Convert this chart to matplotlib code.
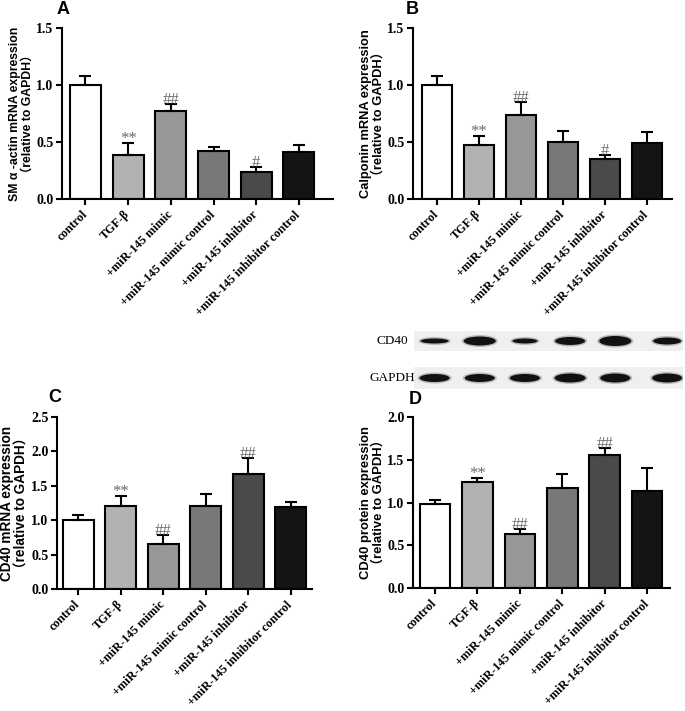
import numpy as np
import matplotlib
matplotlib.use('Agg')
import matplotlib.pyplot as plt
from matplotlib.patches import Ellipse, Rectangle

# Data
groups = ['control', 'TGF-β', '+miR-145 mimic', '+miR-145 mimic control',
          '+miR-145 inhibitor', '+miR-145 inhibitor control']
bar_colors = ['#ffffff', '#b2b2b2', '#979797', '#787878', '#4a4a4a', '#141414']

sma_mean = [1.00, 0.39, 0.775, 0.425, 0.235, 0.41]
sma_err = [0.08, 0.10, 0.06, 0.03, 0.045, 0.06]
sma_marks = ['', '**', '##', '', '#', '']

calp_mean = [1.00, 0.47, 0.74, 0.50, 0.355, 0.49]
calp_err = [0.08, 0.085, 0.115, 0.10, 0.03, 0.10]
calp_marks = ['', '**', '##', '', '#', '']

cd40_mrna_mean = [1.00, 1.21, 0.655, 1.20, 1.665, 1.19]
cd40_mrna_err = [0.08, 0.145, 0.13, 0.185, 0.24, 0.08]
cd40_mrna_marks = ['', '**', '##', '', '##', '']

cd40_prot_mean = [0.98, 1.235, 0.63, 1.17, 1.56, 1.14]
cd40_prot_err = [0.05, 0.05, 0.06, 0.165, 0.075, 0.265]
cd40_prot_marks = ['', '**', '##', '', '##', '']

# western blot band sizes (width, height in px) per lane
cd40_band_w = [28, 32, 25, 30, 32, 28]
cd40_band_h = [5, 9, 5, 8, 10, 7]
gapdh_band_w = [30, 30, 30, 31, 30, 30]
gapdh_band_h = [8, 8, 8, 9, 9, 9]

plt.rcParams['font.family'] = ['Liberation Sans', 'Noto Sans CJK SC']

fig = plt.figure(figsize=(6.85, 7.11), dpi=100)
W, H = 685.0, 711.0

def px_axes(left, top, right, bottom):
    return fig.add_axes([left / W, 1 - bottom / H, (right - left) / W, (bottom - top) / H])

def bar_panel(ax, mean, err, marks, ymax, ylabel, xlim, lsize):
    x = np.arange(len(groups))
    ax.bar(x, mean, width=0.72, color=bar_colors, edgecolor='black', linewidth=1.5, zorder=2)
    ax.errorbar(x, mean, yerr=[np.zeros(len(err)), err], fmt='none', ecolor='black',
                elinewidth=1.5, capsize=4.5, capthick=1.5, zorder=3)
    for xi, m, e, s in zip(x, mean, err, marks):
        if s:
            ax.annotate(s, (xi, m + e), xytext=(0, -3), textcoords='offset points',
                        ha='center', va='bottom', fontsize=12,
                        family='Liberation Serif', color='#6a6a6a', zorder=4)
    ax.set_ylim(0, ymax)
    ax.set_xlim(*xlim)
    ax.set_yticks(np.arange(0, ymax + 0.01, 0.5))
    ax.set_yticklabels(['%.1f' % v for v in np.arange(0, ymax + 0.01, 0.5)],
                       family='Liberation Serif', fontweight='bold', fontsize=10)
    ax.set_xticks(x)
    ax.set_xticklabels(groups, rotation=45, ha='right', va='center', rotation_mode='anchor',
                       family='Liberation Serif', fontweight='bold', fontsize=8.8)
    ax.tick_params(direction='out', length=4, width=1.5, pad=2)
    ax.tick_params(axis='x', pad=6)
    for sp in ['top', 'right']:
        ax.spines[sp].set_visible(False)
    for sp in ['left', 'bottom']:
        ax.spines[sp].set_linewidth(1.5)
    ax.set_ylabel(ylabel, fontsize=lsize, fontweight='bold', labelpad=2, linespacing=1.05)

axA = px_axes(62, 28, 333, 199)
bar_panel(axA, sma_mean, sma_err, sma_marks, 1.5,
          'SM α -actin mRNA expression\n（relative to GAPDH）', (-0.55, 5.8), 8.8)
axB = px_axes(413, 28, 672, 199)
bar_panel(axB, calp_mean, calp_err, calp_marks, 1.5,
          'Calponin mRNA expression\n（relative to GAPDH）', (-0.57, 5.6), 9.3)
axC = px_axes(57, 417, 312, 589)
bar_panel(axC, cd40_mrna_mean, cd40_mrna_err, cd40_mrna_marks, 2.5,
          'CD40 mRNA expression\n（relative to GAPDH）', (-0.5, 5.5), 9.8)
axD = px_axes(413, 417, 670, 588)
bar_panel(axD, cd40_prot_mean, cd40_prot_err, cd40_prot_marks, 2.0,
          'CD40 protein expression\n（relative to GAPDH）', (-0.52, 5.54), 9.4)

# panel letters
for lab, (px, py) in zip('ABCD', [(63, 10), (412, 10), (55, 398), (415, 400)]):
    fig.text(px / W, 1 - py / H, lab, fontsize=13, fontweight='bold',
             ha='center', va='center')

# western blot
axW = px_axes(412, 325, 683, 395)
axW.set_xlim(-0.5, 5.5)
axW.set_ylim(395, 325)
axW.axis('off')
lane_px = 45.0
axW.add_patch(Rectangle((-0.45, 331), 5.95, 20, color='#efefef', lw=0))
axW.add_patch(Rectangle((-0.45, 367), 5.95, 22, color='#efefef', lw=0))
for i in range(6):
    xc = i + (0.15 if i == 5 else 0)
    for yc, bw, bh in [(341, cd40_band_w[i], cd40_band_h[i]),
                       (378, gapdh_band_w[i], gapdh_band_h[i])]:
        # soft halo then solid band
        axW.add_patch(Ellipse((xc, yc), (bw + 4) / lane_px, bh + 3, color='#555555',
                              alpha=0.35, lw=0))
        axW.add_patch(Ellipse((xc, yc), bw / lane_px, bh, color='#111111', lw=0))
fig.text(392 / W, 1 - 341 / H, 'CD40', family='Liberation Serif', fontsize=9.5,
         ha='center', va='center')
fig.text(392 / W, 1 - 378 / H, 'GAPDH', family='Liberation Serif', fontsize=9.5,
         ha='center', va='center')

fig.savefig('out.png', dpi=100)
